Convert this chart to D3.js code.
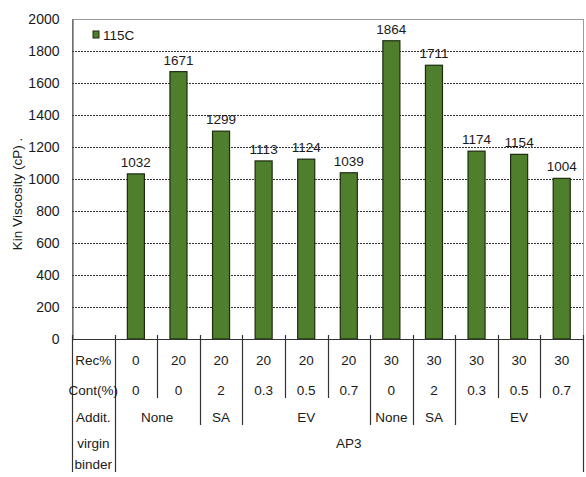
<!DOCTYPE html>
<html>
<head>
<meta charset="utf-8">
<script src="https://cdn.jsdelivr.net/npm/d3@7"></script>
<style>
  body { margin: 0; background: #fff; }
  svg { display: block; font-family: "Liberation Sans", Arial, sans-serif; }
</style>
</head>
<body>
<svg id="chart" width="586" height="477"></svg>
<script>
// Kinematic viscosity at 115C for each binder blend
const viscosity = [1032, 1671, 1299, 1113, 1124, 1039, 1864, 1711, 1174, 1154, 1004];
const recPct = ["0", "20", "20", "20", "20", "20", "30", "30", "30", "30", "30"];
const contPct = ["0", "0", "2", "0.3", "0.5", "0.7", "0", "2", "0.3", "0.5", "0.7"];
// additive groups: label and number of columns spanned
const additGroups = [["None", 2], ["SA", 1], ["EV", 3], ["None", 1], ["SA", 1], ["EV", 3]];
const binderGroups = [["AP3", 11]];
const rowLabels = ["Rec%", "Cont(%)", "Addit."];
const yTicks = [0, 200, 400, 600, 800, 1000, 1200, 1400, 1600, 1800, 2000];
const seriesName = "115C";
const yTitle = "Kin Viscosity (cP) .";

const svg = d3.select("#chart");
const plotLeft = 72, plotRight = 583, plotTop = 19, plotBottom = 339;
const textColor = "#1a1a1a";
const barFill = "#4f7f2c", barStroke = "#1a2c0e";
const tableFont = 13.5;

// first band holds the row labels, the rest one bar each
const cols = ["labels"].concat(viscosity.map((d, i) => "c" + i));
const x = d3.scaleBand().domain(cols).range([plotLeft, plotRight]).padding(0);
const y = d3.scaleLinear().domain([0, 2000]).range([plotBottom, plotTop]);
const bw = x.bandwidth();
const colX = i => x("c" + i);

// plot frame
svg.append("rect")
  .attr("x", plotLeft + 0.5).attr("y", plotTop + 0.5)
  .attr("width", plotRight - plotLeft).attr("height", plotBottom - plotTop)
  .attr("fill", "none").attr("stroke", "#9a9a9a").attr("stroke-width", 1);

// dashed gridlines
svg.append("g").selectAll("line")
  .data(yTicks.filter(t => t > 0 && t < 2000))
  .join("line")
  .attr("x1", plotLeft).attr("x2", plotRight)
  .attr("y1", d => Math.round(y(d)) + 0.5).attr("y2", d => Math.round(y(d)) + 0.5)
  .attr("stroke", "#333").attr("stroke-width", 1).attr("stroke-dasharray", "2,1");

// y axis
const yAxis = svg.append("g")
  .attr("transform", `translate(${plotLeft + 0.5},0)`)
  .call(d3.axisLeft(y).tickValues(yTicks).tickFormat(d3.format("d")).tickSize(0).tickPadding(13));
yAxis.select(".domain").attr("stroke", "#444");
yAxis.selectAll("text").attr("fill", textColor).attr("font-size", 14)
  .attr("font-family", "Liberation Sans, Arial, sans-serif");

svg.append("text")
  .attr("transform", `translate(22,194) rotate(-90)`)
  .attr("text-anchor", "middle").attr("font-size", 13.5).attr("fill", textColor)
  .text(yTitle);

// bars
const barW = bw * 0.4;
svg.append("g").selectAll("rect")
  .data(viscosity)
  .join("rect")
  .attr("x", (d, i) => colX(i) + (bw - barW) / 2)
  .attr("y", d => y(d))
  .attr("width", barW)
  .attr("height", d => y(0) - y(d))
  .attr("fill", barFill).attr("stroke", barStroke).attr("stroke-width", 1.2);

// value labels
svg.append("g").selectAll("text")
  .data(viscosity)
  .join("text")
  .attr("x", (d, i) => colX(i) + bw / 2)
  .attr("y", d => y(d) - 7)
  .attr("text-anchor", "middle").attr("font-size", 13.5).attr("fill", textColor)
  .text(d => d);

// x axis line
svg.append("line")
  .attr("x1", plotLeft).attr("x2", plotRight).attr("y1", plotBottom + 0.5).attr("y2", plotBottom + 0.5)
  .attr("stroke", "#333").attr("stroke-width", 1.2);

// legend
svg.append("rect").attr("x", 93).attr("y", 31).attr("width", 6).attr("height", 7)
  .attr("fill", barFill).attr("stroke", barStroke).attr("stroke-width", 1);
svg.append("text").attr("x", 103).attr("y", 39.5).attr("font-size", 13.5).attr("fill", textColor)
  .text(seriesName);

// data table under the axis
const table = svg.append("g");
const rowY = [360, 390, 417];
const lineColor = "#333";
function vline(xp, y2) {
  table.append("line")
    .attr("x1", Math.round(xp) + 0.5).attr("x2", Math.round(xp) + 0.5)
    .attr("y1", plotBottom - 4).attr("y2", y2)
    .attr("stroke", lineColor).attr("stroke-width", 1.2);
}
// outer edges and label-column edge
vline(plotLeft, 472);
vline(x("c0"), 472);
vline(plotRight, 472);
// additive group boundaries reach one row lower than the plain column separators
let acc = 0;
const groupEdges = new Set();
additGroups.forEach(([, n]) => {
  acc += n;
  if (acc < viscosity.length) groupEdges.add(acc);
});
for (let i = 1; i < viscosity.length; i++) {
  vline(colX(i), groupEdges.has(i) ? 425 : 398);
}

// row labels
rowLabels.forEach((t, r) => {
  table.append("text")
    .attr("x", plotLeft + bw / 2).attr("y", rowY[r] + 5)
    .attr("text-anchor", "middle").attr("font-size", tableFont).attr("fill", textColor)
    .text(t);
});
table.append("text").attr("x", plotLeft + bw / 2).attr("y", 448)
  .attr("text-anchor", "middle").attr("font-size", tableFont).attr("fill", textColor).text("virgin");
table.append("text").attr("x", plotLeft + bw / 2).attr("y", 469)
  .attr("text-anchor", "middle").attr("font-size", tableFont).attr("fill", textColor).text("binder");

// Rec% and Cont(%) rows
[recPct, contPct].forEach((arr, r) => {
  table.append("g").selectAll("text")
    .data(arr)
    .join("text")
    .attr("x", (d, i) => colX(i) + bw / 2)
    .attr("y", rowY[r] + 5)
    .attr("text-anchor", "middle").attr("font-size", tableFont).attr("fill", textColor)
    .text(d => d);
});

// grouped rows
function groupRow(groups, yy) {
  let start = 0;
  groups.forEach(([label, n]) => {
    const x0 = colX(start), x1 = colX(start + n - 1) + bw;
    table.append("text")
      .attr("x", (x0 + x1) / 2).attr("y", yy)
      .attr("text-anchor", "middle").attr("font-size", tableFont).attr("fill", textColor)
      .text(label);
    start += n;
  });
}
groupRow(additGroups, rowY[2] + 5);
groupRow(binderGroups, 448);
</script>
</body>
</html>
